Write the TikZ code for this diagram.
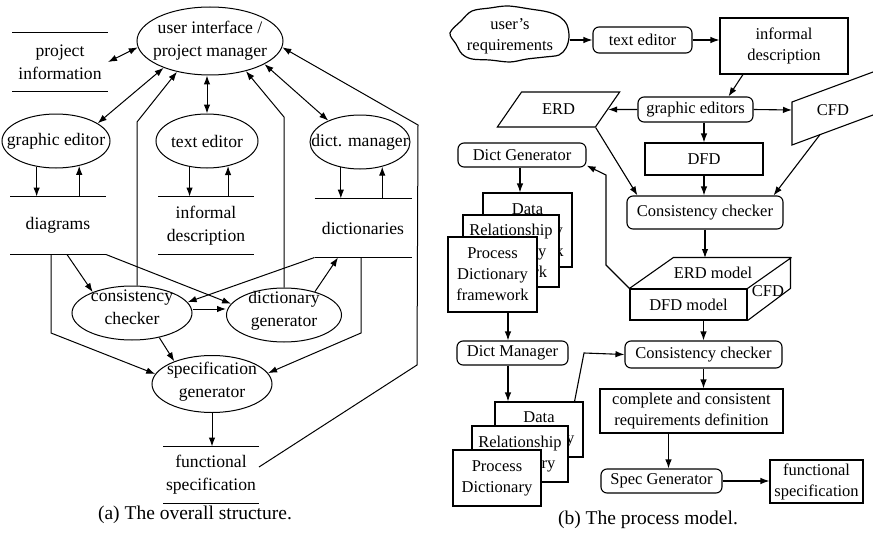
\documentclass[tikz,border=0pt]{standalone}
\usepackage{fontspec}
\setmainfont{Liberation Serif}
\usetikzlibrary{shapes.geometric,arrows.meta}
\begin{document}
\begin{tikzpicture}[x=1pt,y=-1pt,line width=1pt,
  >={Latex[length=9pt,width=6.5pt]},
  L/.style={font=\fontsize{17.6}{23}\selectfont, align=center},
  R/.style={font=\fontsize{16.5}{21}\selectfont, align=center},
  ell/.style={ellipse, draw, inner sep=0pt},
  store/.style={inner sep=0pt, L},
  rbox/.style={draw, rounded corners=6pt, inner sep=0pt, R, line width=1.1pt},
  box/.style={draw, inner sep=0pt, R, line width=1.1pt},
  sbox/.style={draw, fill=white, inner sep=0pt, R, line width=1.1pt},
  captxt/.style={font=\fontsize{19.5}{23}\selectfont},
  conn/.style={->, line width=1.1pt},
]
\useasboundingbox (0,0) rectangle (873,535);
\clip (0,0) rectangle (873,535);

% ---------- (a) overall structure ----------
\node[ell, minimum width=146pt, minimum height=68pt, label={[L]center:{user interface /\\project manager}}] (ui) at (210,41) {};
\node[ell, minimum width=108pt, minimum height=54pt, label={[L]center:graphic editor}] (ge) at (56,141) {};
\node[ell, minimum width=102pt, minimum height=54pt, label={[L]center:text editor}] (te) at (207,141) {};
\node[ell, minimum width=100pt, minimum height=54pt, label={[L]center:dict. manager}] (dm) at (360,142) {};
\node[ell, minimum width=120pt, minimum height=54pt, label={[L,yshift=6pt]center:{consistency\\checker}}] (cc) at (132,313) {};
\node[ell, minimum width=115pt, minimum height=54pt, label={[L,yshift=4pt]center:{dictionary\\generator}}] (dg) at (284,315) {};
\node[ell, minimum width=120pt, minimum height=57pt, label={[L,yshift=2pt]center:{specification\\generator}}] (sg) at (212,384) {};

\node[store, minimum width=95pt, minimum height=58pt] (pinfo) at (60,62) {project\\information};
\node[store, minimum width=95pt, minimum height=57pt] (diag) at (58,225.5) {diagrams};
\node[store, minimum width=95pt, minimum height=57pt] (idesc) at (206,225.5) {informal\\description};
\node[store, minimum width=96pt, minimum height=58pt] (dicts) at (363,228) {dictionaries};
\node[store, minimum width=95pt, minimum height=56pt] (fspec) at (211,475) {functional\\specification};
\foreach \n in {pinfo,diag,idesc,dicts,fspec}
  \draw (\n.north west) -- (\n.north east) (\n.south west) -- (\n.south east);

\draw[<->] (pinfo.east) -- (ui.185);
\draw[<->] (ge.23) -- (ui.210);
\draw[<->] (te.north) -- (te.north |- ui.south);
\draw[<->] (ui.-23) -- (dm.146);
\draw[->] ([yshift=8pt]fspec.east) -- (417,365) -- (418,125) -- (ui.-5);
\draw[->] (dg.north) -- (284,117) -- (ui.-40);
\draw[->] ([xshift=5pt]cc.north) -- (137,122) -- (ui.223);

\draw[->] (ge.233) -- (ge.233 |- diag.north);
\draw[->] (ge.313 |- diag.north) -- (ge.313);
\draw[->] (te.236) -- (te.236 |- idesc.north);
\draw[->] (te.310 |- idesc.north) -- (te.310);
\draw[->] (dm.233) -- (dm.233 |- dicts.north);
\draw[->] (dm.312 |- dicts.north) -- (dm.312);

\draw[->] ([xshift=9pt]diag.south) -- (cc.152);
\draw[->] (diag.south east) -- (dg.168);
\draw[->] ([xshift=-7pt]diag.south) -- (51,333) -- (sg.170);
\draw[->] (dicts.south west) -- (cc.11);
\draw[->] (dg.37) -- ([xshift=-25pt]dicts.south);
\draw[->] ([xshift=-2pt]dicts.south) -- (361,333) -- (sg.11);
\draw[->] ([yshift=4pt]cc.east) -- ([yshift=4pt]cc.east -| dg.west);
\draw[->] (cc.-42) -- (sg.149);
\draw[->] (sg.south) -- (sg.south |- fspec.north);

\node[captxt] (capa) at (195,515) {(a) The overall structure.};

% ---------- (b) process model ----------
\draw[line width=1.2pt] plot[smooth cycle, tension=0.55] coordinates {(450,33) (461,21) (472,11) (490,8) (508,6) (530,9) (548,12) (560,17) (567,25) (569,37) (566,48) (559,55) (545,57) (527,59) (510,62) (490,60) (472,59) (462,54) (456,44)};
\node[R, minimum width=118pt, minimum height=54pt, inner sep=0pt] (ureq) at (510,36) {user’s\\requirements};

\node[rbox, minimum width=99pt, minimum height=26pt] (te2) at (642.5,40) {text editor};
\node[box, minimum width=128pt, minimum height=56pt] (id2) at (784,46) {informal\\description};
\node[rbox, minimum width=115pt, minimum height=25pt] (ge2) at (695.5,109.5) {graphic editors};
\node[draw, trapezium, trapezium left angle=45, trapezium right angle=135, trapezium stretches=true,
      minimum width=123pt, minimum height=35pt, inner sep=0pt, R, line width=1.1pt] (erd) at (558.5,109.5) {ERD};
\draw[line width=1.1pt] (792,102) -- (900,62) -- (900,105) -- (792,145) -- cycle;
\node[R] (cfd) at (833,110) {CFD};
\coordinate (cfdL) at (792,110);
\coordinate (cfdB) at (820,134.6);
\node[box, minimum width=118pt, minimum height=32pt] (dfd) at (704,159) {DFD};
\node[rbox, minimum width=156pt, minimum height=33pt] (cc1) at (705,212.5) {Consistency checker};

\node[box, minimum width=117pt, minimum height=31pt] (dfdm) at (688.5,304.5) {DFD model};
\draw[line width=1.1pt] (dfdm.north west) -- ++(44,-31) -- ++(117,0) -- ++(0,31) -- (dfdm.south east)
  (dfdm.north east) -- ++(44,-31);
\node[R] (erdm) at (713,273) {ERD model};
\node[R] (cfdm) at (768,291) {CFD};
\coordinate (mtop) at (704,258);

\node[rbox, minimum width=128pt, minimum height=24pt] (dgen) at (522,155) {Dict Generator};
\node[sbox, minimum width=89pt, minimum height=74pt] (dd1a) at (527.5,230) {Data\\Dictionary\\framework};
\node[sbox, minimum width=96pt, minimum height=72pt] (dd1b) at (511,251) {Relationship\\Dictionary\\framework};
\node[sbox, minimum width=89pt, minimum height=75pt] (dd1c) at (492.5,274.5) {Process\\Dictionary\\framework};
\node[rbox, minimum width=111pt, minimum height=24pt] (dmgr) at (512.5,353) {Dict Manager};
\node[sbox, minimum width=88pt, minimum height=55pt] (dd2a) at (539,429.5) {Data\\Dictionary};
\node[sbox, minimum width=96pt, minimum height=56pt] (dd2b) at (520,454) {Relationship\\Dictionary};
\node[sbox, minimum width=88pt, minimum height=56pt] (dd2c) at (497,478) {Process\\Dictionary};

\node[rbox, minimum width=157pt, minimum height=27pt] (cc2) at (703.5,354.5) {Consistency checker};
\node[box, minimum width=183pt, minimum height=44pt] (comp) at (691.5,411) {complete and consistent\\requirements definition};
\node[rbox, minimum width=121pt, minimum height=24pt] (sg2) at (661.5,481) {Spec Generator};
\node[box, minimum width=93pt, minimum height=43pt] (fs2) at (816.5,481.5) {functional\\specification};

\draw[conn] (ureq.east |- te2.west) -- (te2.west);
\draw[conn] (te2.east) -- (te2.east -| id2.west);
\draw[conn] ([xshift=-41pt]id2.south) -- ([xshift=33pt]ge2.north);
\draw[conn] (ge2.west) -- (erd.east);
\draw[conn] (ge2.east) -- (cfdL);
\draw[conn] (dfd.north |- ge2.south) -- (dfd.north);
\draw[conn] (erd.bottom right corner) -- ([xshift=11pt]cc1.north west);
\draw[conn] (dfd.south) -- (dfd.south |- cc1.north);
\draw[conn] (cfdB) -- ([xshift=-10pt]cc1.north east);
\draw[conn] (cc1.south) -- (cc1.south |- mtop);
\draw[conn] (dfdm.north west) -- (606,265) -- (606,175) -- ([yshift=2pt]dgen.south east);
\draw[conn] ([xshift=-2pt]dgen.south) -- ([xshift=-2pt]dgen.south |- dd1a.north);
\draw[conn] ([xshift=-4.5pt]dmgr.north |- dd1c.south) -- ([xshift=-4.5pt]dmgr.north);
\draw[conn] ([xshift=-4.5pt]dmgr.south) -- ([xshift=-4.5pt]dmgr.south |- dd2a.north);
\draw[conn] ([xshift=-9pt]dd2a.north east) -- (584,353) -- (cc2.west);
\draw[conn] (cc2.north |- dfdm.south) -- (cc2.north);
\draw[conn] (cc2.south) -- (cc2.south |- comp.north);
\draw[conn] ([xshift=7pt]sg2.north |- comp.south) -- ([xshift=7pt]sg2.north);
\draw[conn] (sg2.east) -- (sg2.east -| fs2.west);

\node[captxt] (capb) at (648,520) {(b) The process model.};
\end{tikzpicture}
\end{document}
